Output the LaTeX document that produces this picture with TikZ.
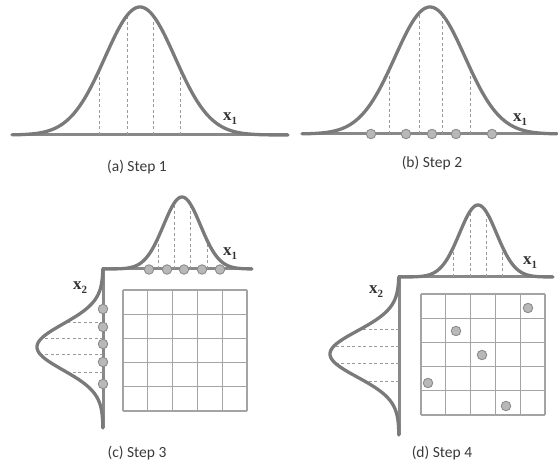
\documentclass[tikz,border=0pt]{standalone}
\usepackage{fontspec}
\setmainfont{Carlito}
\newfontfamily\varfont{Liberation Serif}
\definecolor{curvegray}{HTML}{7A7A7A}
\definecolor{axisgray}{HTML}{888888}
\definecolor{dashgray}{HTML}{9A9A9A}
\definecolor{gridgray}{HTML}{A4A4A4}
\definecolor{dotfill}{HTML}{B8B8B8}
\definecolor{dotdraw}{HTML}{8C8C8C}
\definecolor{labelgray}{HTML}{3A3A3A}
\newcommand{\varlab}[1]{\textbf{x}\raisebox{-0.22em}{\fontsize{11}{11}\selectfont\textbf{#1}}}
\begin{document}
\begin{tikzpicture}[x=1pt,y=-1pt,
  curve/.style={line width=3.3pt, draw=curvegray, line cap=round, line join=round},
  axisline/.style={line width=3pt, draw=axisgray, line join=miter},
  guide/.style={draw=dashgray, line width=0.7pt, dash pattern=on 3pt off 2.5pt},
  gridline/.style={draw=gridgray, line width=1.1pt},
  sample/.style={circle, fill=dotfill, draw=dotdraw, line width=0.9pt, minimum size=9.5pt, inner sep=0pt},
  steplabel/.style={font=\fontsize{15.5}{18}\selectfont, text=labelgray, inner sep=0pt},
  varlabel/.style={font=\varfont\fontsize{17}{17}\selectfont, anchor=base west, inner sep=0pt, text=black!80},
  declare function={
    ga(\x)=135-128*exp(-(((\x-140)/35)^2)/2);
    gb(\x)=134-127*exp(-(((\x-430)/35)^2)/2);
    gct(\x)=269-72*exp(-(((\x-182)/18.5)^2)/2);
    gcl(\x)=103-66*exp(-(((\x-347)/23)^2)/2);
    gdt(\x)=277-72*exp(-(((\x-478)/18.5)^2)/2);
    gdl(\x)=399-69*exp(-(((\x-354)/23)^2)/2);
  }]
\useasboundingbox (0,0) rectangle (558,468);

% ---------- (a) Step 1 ----------
\draw[axisline] (12,135) -- (288,135);
\foreach \d in {99,127,153,180}
  \draw[guide] (\d,135) -- (\d,{ga(\d)});
\draw[curve] plot[domain=12:288, samples=150] (\x,{ga(\x)});
\node[varlabel] (xa) at (223,121) {\varlab{1}};
\node[steplabel] (la) at (137,167) {(a) Step 1};

% ---------- (b) Step 2 ----------
\draw[axisline] (302,134) -- (557,134);
\foreach \d in {389,419,442,470}
  \draw[guide] (\d,134) -- (\d,{gb(\d)});
\draw[curve] plot[domain=302:557, samples=150] (\x,{gb(\x)});
\foreach \p [count=\i] in {371,406,432,456,492}
  \node[sample] (b\i) at (\p,134) {};
\node[varlabel] (xb) at (513,122) {\varlab{1}};
\node[steplabel] (lb) at (432,163) {(b) Step 2};

% ---------- (c) Step 3 ----------
\draw[axisline] (103,428) -- (103,269) -- (252,269);
\foreach \d in {158,174,190,207}
  \draw[guide] (\d,269) -- (\d,{gct(\d)});
\foreach \d in {322,338,354,372}
  \draw[guide] (103,\d) -- ({gcl(\d)},\d);
\draw[curve] plot[domain=103:252, samples=120] (\x,{gct(\x)});
\draw[curve] plot[domain=269:428, samples=120] ({gcl(\x)},\x);
\foreach \i in {0,...,5} {
  \draw[gridline] ({123+\i*24.8},290) -- ({123+\i*24.8},411);
  \draw[gridline] (123,{290+\i*24.2}) -- (247,{290+\i*24.2});
}
\foreach \p [count=\i] in {149,167,184,202,220}
  \node[sample] (ct\i) at (\p,269.5) {};
\foreach \p [count=\i] in {309,327,344,362,384}
  \node[sample] (cl\i) at (103,\p) {};
\node[varlabel] (xc1) at (223,256) {\varlab{1}};
\node[varlabel] (xc2) at (73,290) {\varlab{2}};
\node[steplabel] (lc) at (137,453) {(c) Step 3};

% ---------- (d) Step 4 ----------
\draw[axisline] (399,435) -- (399,277) -- (553,277);
\foreach \d in {453,470,486,502}
  \draw[guide] (\d,277) -- (\d,{gdt(\d)});
\foreach \d in {329,346,363,381}
  \draw[guide] (399,\d) -- ({gdl(\d)},\d);
\draw[curve] plot[domain=399:553, samples=120] (\x,{gdt(\x)});
\draw[curve] plot[domain=277:435, samples=120] ({gdl(\x)},\x);
\foreach \i in {0,...,5} {
  \draw[gridline] ({421+\i*24.8},294) -- ({421+\i*24.8},415);
  \draw[gridline] (421,{294+\i*24.2}) -- (545,{294+\i*24.2});
}
\node[sample] (d1) at (528,308) {};
\node[sample] (d2) at (456,331) {};
\node[sample] (d3) at (482,355) {};
\node[sample] (d4) at (428,383) {};
\node[sample] (d5) at (506,406) {};
\node[varlabel] (xd1) at (523,265) {\varlab{1}};
\node[varlabel] (xd2) at (369,294) {\varlab{2}};
\node[steplabel] (ld) at (442,453) {(d) Step 4};
\end{tikzpicture}
\end{document}
